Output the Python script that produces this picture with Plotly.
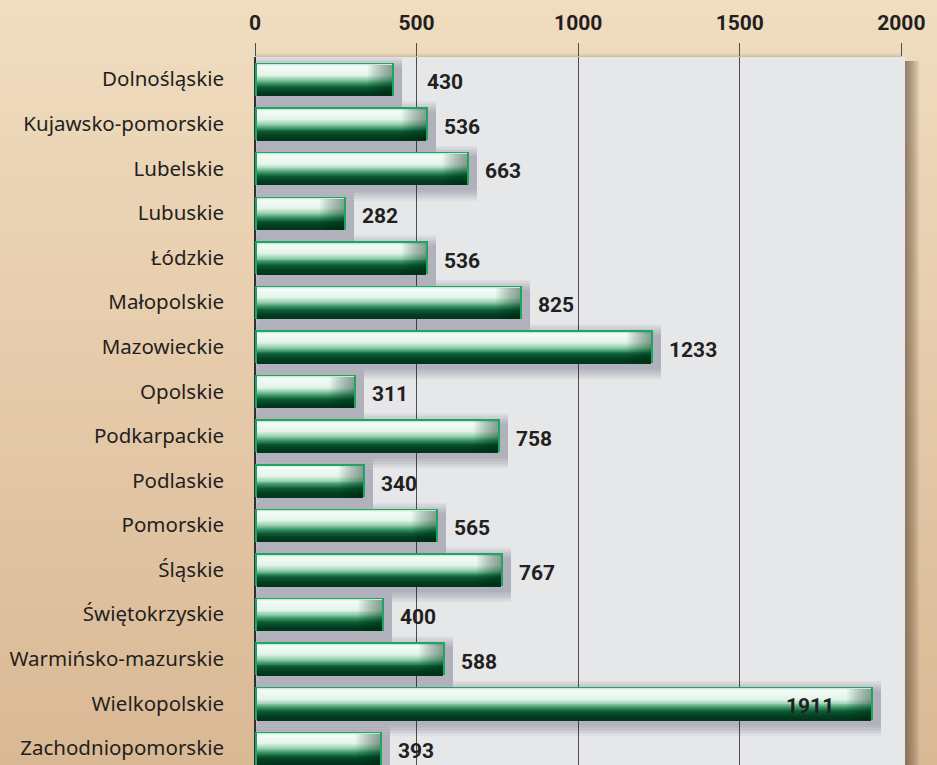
import plotly.graph_objects as go

categories = ["Dolnośląskie", "Kujawsko-pomorskie", "Lubelskie", "Lubuskie", "Łódzkie",
              "Małopolskie", "Mazowieckie", "Opolskie", "Podkarpackie", "Podlaskie",
              "Pomorskie", "Śląskie", "Świętokrzyskie", "Warmińsko-mazurskie",
              "Wielkopolskie", "Zachodniopomorskie"]
values = [430, 536, 663, 282, 536, 825, 1233, 311, 758, 340, 565, 767, 400, 588, 1911, 393]
tick_vals = [0, 500, 1000, 1500, 2000]
tick_text = ["0", "500", "1000", "1500", "2000"]

W, H = 937, 765
ML, MR, MT, MB = 255, 35, 57, 0
XMAX = 2002
ROW_PX = 44.6
BAR_W = 0.74
pw = W - ML - MR
ph = H - MT - MB
UPX = XMAX / pw          # data units per pixel (x)
YPX = 1 / ROW_PX         # category units per pixel (y)


def hex2rgb(h):
    h = h.lstrip("#")
    return tuple(int(h[i:i + 2], 16) for i in (0, 2, 4))


def lerp_stops(stops, t):
    for (t0, c0), (t1, c1) in zip(stops, stops[1:]):
        if t0 <= t <= t1:
            f = (t - t0) / (t1 - t0) if t1 > t0 else 0
            a, b = hex2rgb(c0), hex2rgb(c1)
            return "rgb(%d,%d,%d)" % tuple(round(a[i] + (b[i] - a[i]) * f) for i in range(3))
    return stops[-1][1]


def hbar(x, width, offset, color, base=None):
    return go.Bar(y=categories, x=x, base=base, orientation="h", width=width, offset=offset,
                  marker=dict(color=color, line=dict(width=0)),
                  hoverinfo="skip", showlegend=False)


fig = go.Figure()

# soft drop shadow (down-right)
for k in range(8):
    e = 11 - k * 1.5
    dx, dy = 4, 5
    fig.add_trace(hbar(
        [v + (dx + e) * UPX for v in values], BAR_W + 2 * e * YPX,
        -BAR_W / 2 + (dy - e) * YPX, "rgba(40,40,45,0.035)",
        base=[(dx - e) * UPX] * len(values)))

# green border
fig.add_trace(hbar(values, BAR_W, -BAR_W / 2, "#1fa562"))

# gradient interior (horizontal strips)
bar_stops = [(0.0, "#b8e8cf"), (0.06, "#f4fbf7"), (0.34, "#e4f4eb"), (0.5, "#93cfad"),
             (0.62, "#3a9567"), (0.74, "#0d5a34"), (0.88, "#033f22"), (1.0, "#00351c")]
inner_top = 2 * YPX
inner_h = BAR_W - inner_top
N = 33
h = inner_h / N
for i in range(N):
    t = (i + 0.5) / N
    fig.add_trace(hbar(
        [v - 4 * UPX for v in values], h * 1.05, -BAR_W / 2 + inner_top + i * h,
        lerp_stops(bar_stops, t), base=[2 * UPX] * len(values)))

# darker right end vignette
for wpx in range(24, 0, -2):
    fig.add_trace(hbar(
        [wpx * UPX] * len(values), inner_h, -BAR_W / 2 + inner_top,
        "rgba(0,45,25,0.045)", base=[v - (2 + wpx) * UPX for v in values]))

fig.update_layout(barmode="overlay", bargap=0)

# value labels
label_dx = {430: 31}
annotations = []
vmax = max(values)
for c, v in zip(categories, values):
    if v == vmax:
        annotations.append(dict(x=v, y=c, text="<b>%d</b>" % v, showarrow=False,
                                xanchor="right", xshift=-37, yshift=-3,
                                font=dict(size=21, color="#231f20", family="Roboto")))
    else:
        annotations.append(dict(x=v, y=c, text="<b>%d</b>" % v, showarrow=False,
                                xanchor="left", xshift=label_dx.get(v, 14), yshift=-3,
                                font=dict(size=21, color="#231f20", family="Roboto")))

# background gradient in paper coordinates
x_left = -ML / pw
x_right = 1 + MR / pw
y_bot = -MB / ph - 0.01
y_top = 1 + MT / ph
bg_stops = [(0.0, "#f0ddc0"), (0.5, "#e5caaa"), (1.0, "#d9b894")]
shapes = []
NS = 80
for i in range(NS):
    y0 = y_top - (y_top - y_bot) * i / NS
    y1 = y_top - (y_top - y_bot) * (i + 1) / NS
    shapes.append(dict(type="rect", xref="paper", yref="paper", x0=x_left, x1=x_right,
                       y0=y1 - 0.002, y1=y0, fillcolor=lerp_stops(bg_stops, (i + 0.5) / NS),
                       line=dict(width=0), layer="below"))
# shadow above plot area
for k, op in enumerate([0.10, 0.07, 0.04]):
    shapes.append(dict(type="rect", xref="paper", yref="paper",
                       x0=0, x1=1, y0=1, y1=1 + (1 + k * 1.5) / ph,
                       fillcolor="rgba(110,80,50,%.2f)" % op, line=dict(width=0), layer="below"))
# shadow right of plot area
for k in range(8):
    shapes.append(dict(type="rect", xref="paper", yref="paper",
                       x0=1, x1=1 + (3 + k * 2) / pw, y0=-0.01, y1=1 - 4 / ph,
                       fillcolor="rgba(80,60,40,0.10)", line=dict(width=0), layer="below"))
# plot area background
shapes.append(dict(type="rect", xref="paper", yref="paper", x0=0, x1=1 + 3 / pw,
                   y0=-0.01, y1=1, fillcolor="#e6e7e9", line=dict(width=0), layer="below"))

fig.update_layout(
    width=W, height=H,
    margin=dict(l=ML, r=MR, t=MT, b=MB, pad=0),
    paper_bgcolor="#e4c9a8",
    plot_bgcolor="#e6e7e9",
    showlegend=False,
    annotations=annotations,
    shapes=shapes,
    xaxis=dict(side="top", range=[0, XMAX], tickvals=tick_vals, ticktext=tick_text,
               showgrid=True, gridcolor="#4d4d4f", gridwidth=1.3,
               ticks="outside", ticklen=13, tickcolor="#4d4d4f", tickwidth=1.3,
               ticklabelstandoff=5,
               tickfont=dict(size=21, color="#231f20", family="Roboto", weight="bold"),
               zeroline=True, zerolinecolor="#333", zerolinewidth=1.5,
               showline=False, fixedrange=True),
    yaxis=dict(range=[15.38, -0.5], type="category", categoryorder="array",
               categoryarray=categories, showgrid=False, zeroline=False,
               ticks="", ticklabelstandoff=30,
               tickfont=dict(size=20.5, color="#231f20", family="Noto Sans"),
               fixedrange=True),
)

fig.write_html("out.html", config={"displayModeBar": False},
               post_script="document.body.style.margin='0';document.body.style.overflow='hidden';")
